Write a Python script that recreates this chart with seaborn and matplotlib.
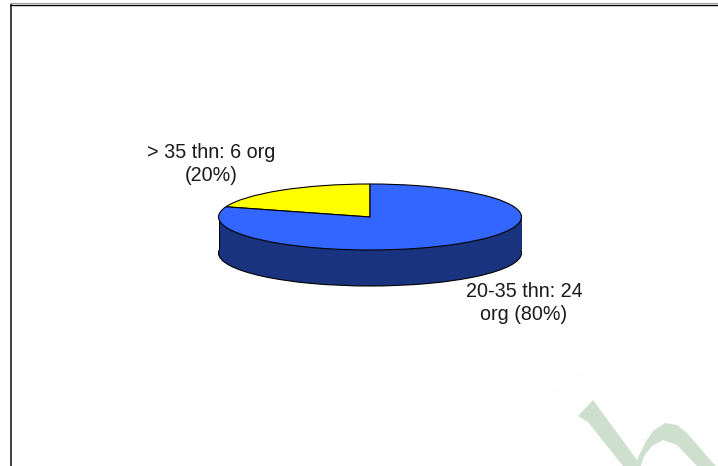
import matplotlib
matplotlib.use("Agg")
import matplotlib.pyplot as plt
from matplotlib.patches import Rectangle
import seaborn as sns

# Respondents by age group
age_groups = ["> 35 thn", "20-35 thn"]
org_counts = [6, 24]
shares = [20, 80]
slice_colors = ["#FFFF00", "#3366FF"]
side_color = "#19337F"
label_color = "#1A1A1A"

sns.set_theme(style="white")
plt.rcParams["font.family"] = ["Liberation Sans", "DejaVu Sans"]

W, H = 718, 466
fig = plt.figure(figsize=(W / 100, H / 100), dpi=100, facecolor="white")

# Full-figure layer in pixel units for the slide frame and the logo mark
bg = fig.add_axes([0, 0, 1, 1])
bg.set_xlim(0, W)
bg.set_ylim(H, 0)
bg.axis("off")

# Faint halo behind the logo
bg.fill([505, 560, 627, 683, 718, 718, 505],
        [430, 385, 342, 417, 466, 466, 466], color="#FEFEFE", lw=0, zorder=0)
# Logo: diagonal stem running into the arch
logo = "#CFDFCD"
bg.fill([593, 637, 645, 653, 665, 677, 687, 712, 716, 697, 677, 663, 652, 644, 641, 623, 588, 578],
        [400, 460, 443, 431, 423, 425, 433, 462, 466, 466, 445, 440, 446, 456, 466, 466, 422, 416],
        color=logo, lw=0, zorder=1)

# Slide frame: left and top edges
bg.plot([10.5, 10.5], [H, 4], color="#333333", lw=1.3, solid_capstyle="butt")
bg.plot([10, W], [4.5, 4.5], color="#000000", lw=1.0, solid_capstyle="butt")
bg.plot([10, W], [3.4, 3.4], color="#999999", lw=0.7, solid_capstyle="butt")

# Pie axes: the unit circle is stretched into the tilted ellipse
cx, cy, rx, ry = 370, 217, 151.5, 33
ax = fig.add_axes([(cx - rx) / W, 1 - (cy + ry) / H, 2 * rx / W, 2 * ry / H])
depth = 36 / ry
edge = dict(edgecolor="black", linewidth=0.8)

side, _ = ax.pie([sum(org_counts)], colors=[side_color], startangle=90,
                 center=(0, -depth), wedgeprops=edge)
ax.add_patch(Rectangle((-1, -depth), 2, depth, facecolor=side_color, edgecolor="none", zorder=2))
ax.plot([-1, -1], [0, -depth], color="black", lw=0.8, zorder=3)
ax.plot([1, 1], [0, -depth], color="black", lw=0.8, zorder=3)
top, _ = ax.pie(org_counts, colors=slice_colors, startangle=90, wedgeprops=edge)
for w in top:
    w.set_zorder(4)
for w in list(top) + list(side):
    w.set_clip_on(False)

ax.set_aspect("auto")
ax.set_xlim(-1, 1)
ax.set_ylim(-1, 1)
ax.axis("off")

# Slice captions
captions = [
    (211, 164, f"{age_groups[0]}: {org_counts[0]} org\n({shares[0]}%)"),
    (524, 303, f"{age_groups[1]}: {org_counts[1]}\norg ({shares[1]}%)"),
]
for x, y, text in captions:
    bg.text(x, y, text, ha="center", va="center", fontsize=14.2,
            color=label_color, linespacing=1.22)

fig.savefig("out.png", dpi=100, facecolor="white")
